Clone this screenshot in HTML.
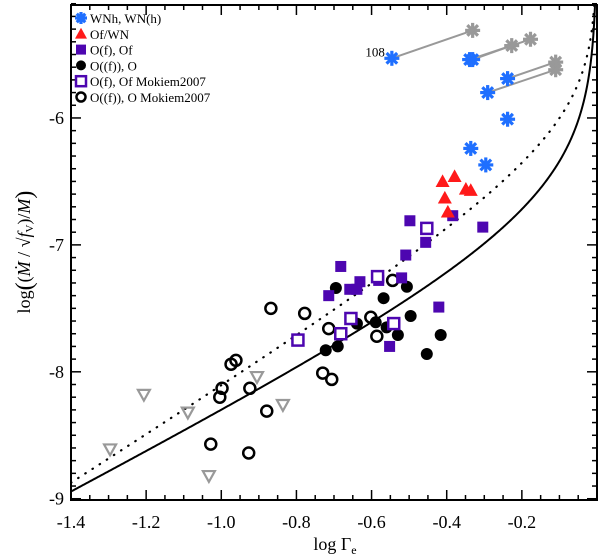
<!DOCTYPE html>
<html><head><meta charset="utf-8"><style>
html,body{margin:0;padding:0;background:#fff;}
svg{display:block;font-family:"Liberation Serif",serif;}
</style></head><body>
<svg id="chart" width="600" height="558" viewBox="0 0 600 558" xmlns="http://www.w3.org/2000/svg">
<g id="marks"></g>
<g id="axes"></g>
<text x="335" y="550" font-size="18" text-anchor="middle">log Γ<tspan font-size="12" dy="4">e</tspan></text>
<text transform="translate(30,252) rotate(-90)" font-size="18" text-anchor="middle">log<tspan font-size="24" dy="2">(</tspan><tspan dy="-2">(</tspan><tspan font-style="italic">Ṁ</tspan> / √<tspan font-style="italic">f</tspan><tspan font-size="11" dy="3">V</tspan><tspan dy="-3">)/</tspan><tspan font-style="italic">M</tspan><tspan font-size="24" dy="2">)</tspan></text>
<g id="legend"></g>
</svg>
<script>
const xTicks=[-1.4,-1.2,-1.0,-0.8,-0.6,-0.4,-0.2];
const xTickLabels=["-1.4","-1.2","-1.0","-0.8","-0.6","-0.4","-0.2"];
const yTicks=[-9,-8,-7,-6];
const yTickLabels=["-9","-8","-7","-6"];
const wnX=[-0.546,-0.339,-0.331,-0.238,-0.291,-0.238,-0.336,-0.296];
const wnY=[-5.53,-5.54,-5.54,-5.69,-5.80,-6.01,-6.24,-6.37];
const grayX=[-0.331,-0.227,-0.177,-0.110,-0.110];
const grayY=[-5.31,-5.43,-5.38,-5.56,-5.62];
const linkFrom=[0,2,1,3,4];
const linkTo=[0,1,2,3,4];
const ofwnX=[-0.379,-0.411,-0.349,-0.336,-0.405,-0.397];
const ofwnY=[-6.46,-6.50,-6.56,-6.57,-6.63,-6.74];
const ofX=[-0.498,-0.304,-0.456,-0.384,-0.509,-0.682,-0.631,-0.658,-0.639,-0.714,-0.581,-0.520,-0.421,-0.552];
const ofY=[-6.81,-6.86,-6.98,-6.77,-7.08,-7.17,-7.29,-7.35,-7.35,-7.40,-7.28,-7.26,-7.49,-7.80];
const ofMX=[-0.453,-0.584,-0.655,-0.682,-0.541,-0.796];
const ofMY=[-6.87,-7.25,-7.58,-7.70,-7.62,-7.75];
const oX=[-0.695,-0.568,-0.506,-0.639,-0.589,-0.560,-0.530,-0.496,-0.416,-0.453,-0.722,-0.690];
const oY=[-7.34,-7.42,-7.33,-7.62,-7.61,-7.65,-7.71,-7.56,-7.71,-7.86,-7.83,-7.80];
const oMX=[-0.544,-0.778,-0.714,-0.602,-0.586,-0.730,-0.706,-0.868,-0.974,-0.961,-0.998,-1.004,-0.924,-0.879,-1.028,-0.927];
const oMY=[-7.28,-7.54,-7.66,-7.57,-7.72,-8.01,-8.06,-7.50,-7.94,-7.91,-8.13,-8.20,-8.13,-8.31,-8.57,-8.64];
const limX=[-1.206,-1.296,-1.089,-1.033,-0.905,-0.836];
const limY=[-8.18,-8.61,-8.32,-8.82,-8.04,-8.26];
const solidCoef=[-6.79,1.549,0.88];
const dotCoef=[-6.26,1.875,0.65];

const L=71,R=597,T=5,B=500;
const X0=-1.4,X1=0,Y0=-9.01,Y1=-5.11;
function sx(v){return L+(v-X0)/(X1-X0)*(R-L);}
function sy(v){return B-(v-Y0)/(Y1-Y0)*(B-T);}
const NS="http://www.w3.org/2000/svg";
function mk(tag,attrs,parent){const e=document.createElementNS(NS,tag);for(const k in attrs)e.setAttribute(k,attrs[k]);parent.appendChild(e);return e;}
const marks=document.getElementById('marks'),axes=document.getElementById('axes'),legend=document.getElementById('legend');
const BLUE="#1f6fff",RED="#ff1a1a",PURP="#4d06b0",GRAY="#999999";

function star(g,x,y,c,s){const r=s||7.5;for(const a of [0,45,90,135]){const t=a*Math.PI/180;mk('line',{x1:x-r*Math.cos(t),y1:y-r*Math.sin(t),x2:x+r*Math.cos(t),y2:y+r*Math.sin(t),stroke:c,'stroke-width':3.2},g);}}
function square(g,x,y,filled,s){const h=s||5.5;return mk('rect',{x:x-h,y:y-h,width:2*h,height:2*h,fill:filled?PURP:'#fff',stroke:PURP,'stroke-width':filled?0:2.5},g);}
function circle(g,x,y,filled,r){return mk('circle',{cx:x,cy:y,r:filled?(r||6):(r||5.5),fill:filled?'#000':'none',stroke:'#000','stroke-width':filled?0:2.5},g);}
function tri(g,x,y,s){const h=s||7;return mk('polygon',{points:`${x},${y-h} ${x-h},${y+h*0.8} ${x+h},${y+h*0.8}`,fill:RED},g);}
function dtri(g,x,y){const h=6;return mk('polygon',{points:`${x-h},${y-h*0.8} ${x+h},${y-h*0.8} ${x},${y+h}`,fill:'none',stroke:GRAY,'stroke-width':2.2},g);}

function curvePath(c){let d='';for(let i=0;i<=600;i++){const lg=X0+(X1-X0-0.0005)*i/600;const G=Math.pow(10,lg);const v=c[0]+c[1]*lg-c[2]*Math.log10(1-G);if(v>Y1+0.3)break;d+=(i?'L':'M')+sx(lg).toFixed(2)+','+sy(v).toFixed(2);}return d;}
const clip=mk('clipPath',{id:'pc'},marks);mk('rect',{x:L,y:T,width:R-L,height:B-T},clip);
const cg=mk('g',{'clip-path':'url(#pc)'},marks);
let e=mk('path',{d:curvePath(solidCoef),fill:'none',stroke:'#000','stroke-width':2},cg);

e=mk('path',{d:curvePath(dotCoef),fill:'none',stroke:'#000','stroke-width':2.2,'stroke-dasharray':'0.5 8','stroke-linecap':'round'},cg);


for(let i=0;i<linkFrom.length;i++){e=mk('line',{x1:sx(wnX[linkFrom[i]]),y1:sy(wnY[linkFrom[i]]),x2:sx(grayX[linkTo[i]]),y2:sy(grayY[linkTo[i]]),stroke:GRAY,'stroke-width':2},marks);
}
for(let i=0;i<grayX.length;i++){const g=mk('g',{},marks);star(g,sx(grayX[i]),sy(grayY[i]),GRAY);}
for(let i=0;i<limX.length;i++){e=dtri(marks,sx(limX[i]),sy(limY[i]));}
for(let i=0;i<oMX.length;i++){e=circle(marks,sx(oMX[i]),sy(oMY[i]),false);}
for(let i=0;i<oX.length;i++){e=circle(marks,sx(oX[i]),sy(oY[i]),true);}
for(let i=0;i<ofX.length;i++){e=square(marks,sx(ofX[i]),sy(ofY[i]),true);}
for(let i=0;i<ofMX.length;i++){e=square(marks,sx(ofMX[i]),sy(ofMY[i]),false);}
for(let i=0;i<ofwnX.length;i++){e=tri(marks,sx(ofwnX[i]),sy(ofwnY[i]));}
for(let i=0;i<wnX.length;i++){const g=mk('g',{},marks);star(g,sx(wnX[i]),sy(wnY[i]),BLUE);}
e=mk('text',{x:sx(wnX[0])-7,y:sy(wnY[0])-2,'font-size':13,'text-anchor':'end'},marks);e.textContent='108';


e=mk('rect',{x:L,y:T,width:R-L,height:B-T,fill:'none',stroke:'#000','stroke-width':2},axes);

for(let v=-1.4;v<=0.0001;v+=0.05){const x=sx(v);const maj=Math.abs(Math.round(v*5)-v*5)<1e-6;const len=maj?10:5;
mk('line',{x1:x,y1:B,x2:x,y2:B-len,stroke:'#000','stroke-width':1.5},axes);mk('line',{x1:x,y1:T,x2:x,y2:T+len,stroke:'#000','stroke-width':1.5},axes);}
for(let v=-9;v<=-5.1;v+=0.1){const y=sy(v);const maj=Math.abs(Math.round(v)-v)<1e-6;const len=maj?10:5;
mk('line',{x1:L,y1:y,x2:L+len,y2:y,stroke:'#000','stroke-width':1.5},axes);mk('line',{x1:R,y1:y,x2:R-len,y2:y,stroke:'#000','stroke-width':1.5},axes);}
for(let i=0;i<xTicks.length;i++){e=mk('text',{x:sx(xTicks[i]),y:528,'font-size':18,'text-anchor':'middle'},axes);e.textContent=xTickLabels[i];
}
for(let i=0;i<yTicks.length;i++){e=mk('text',{x:64,y:sy(yTicks[i])+6,'font-size':18,'text-anchor':'end'},axes);e.textContent=yTickLabels[i];
}

const legLabels=["WNh, WN(h)","Of/WN","O(f), Of","O((f)), O","O(f), Of Mokiem2007","O((f)), O Mokiem2007"];
for(let i=0;i<legLabels.length;i++){const y=18+15.8*i;const g=mk('g',{},legend);

const x=81;
if(i==0)star(g,x,y,BLUE,6);else if(i==1)tri(g,x,y,6);else if(i==2)square(g,x,y,true,5);else if(i==3)circle(g,x,y,true,5);else if(i==4)square(g,x,y,false,5);else circle(g,x,y,false,4.5);
const t=mk('text',{x:90,y:y+5,'font-size':13},g);t.textContent=legLabels[i];}
</script>
</body></html>
